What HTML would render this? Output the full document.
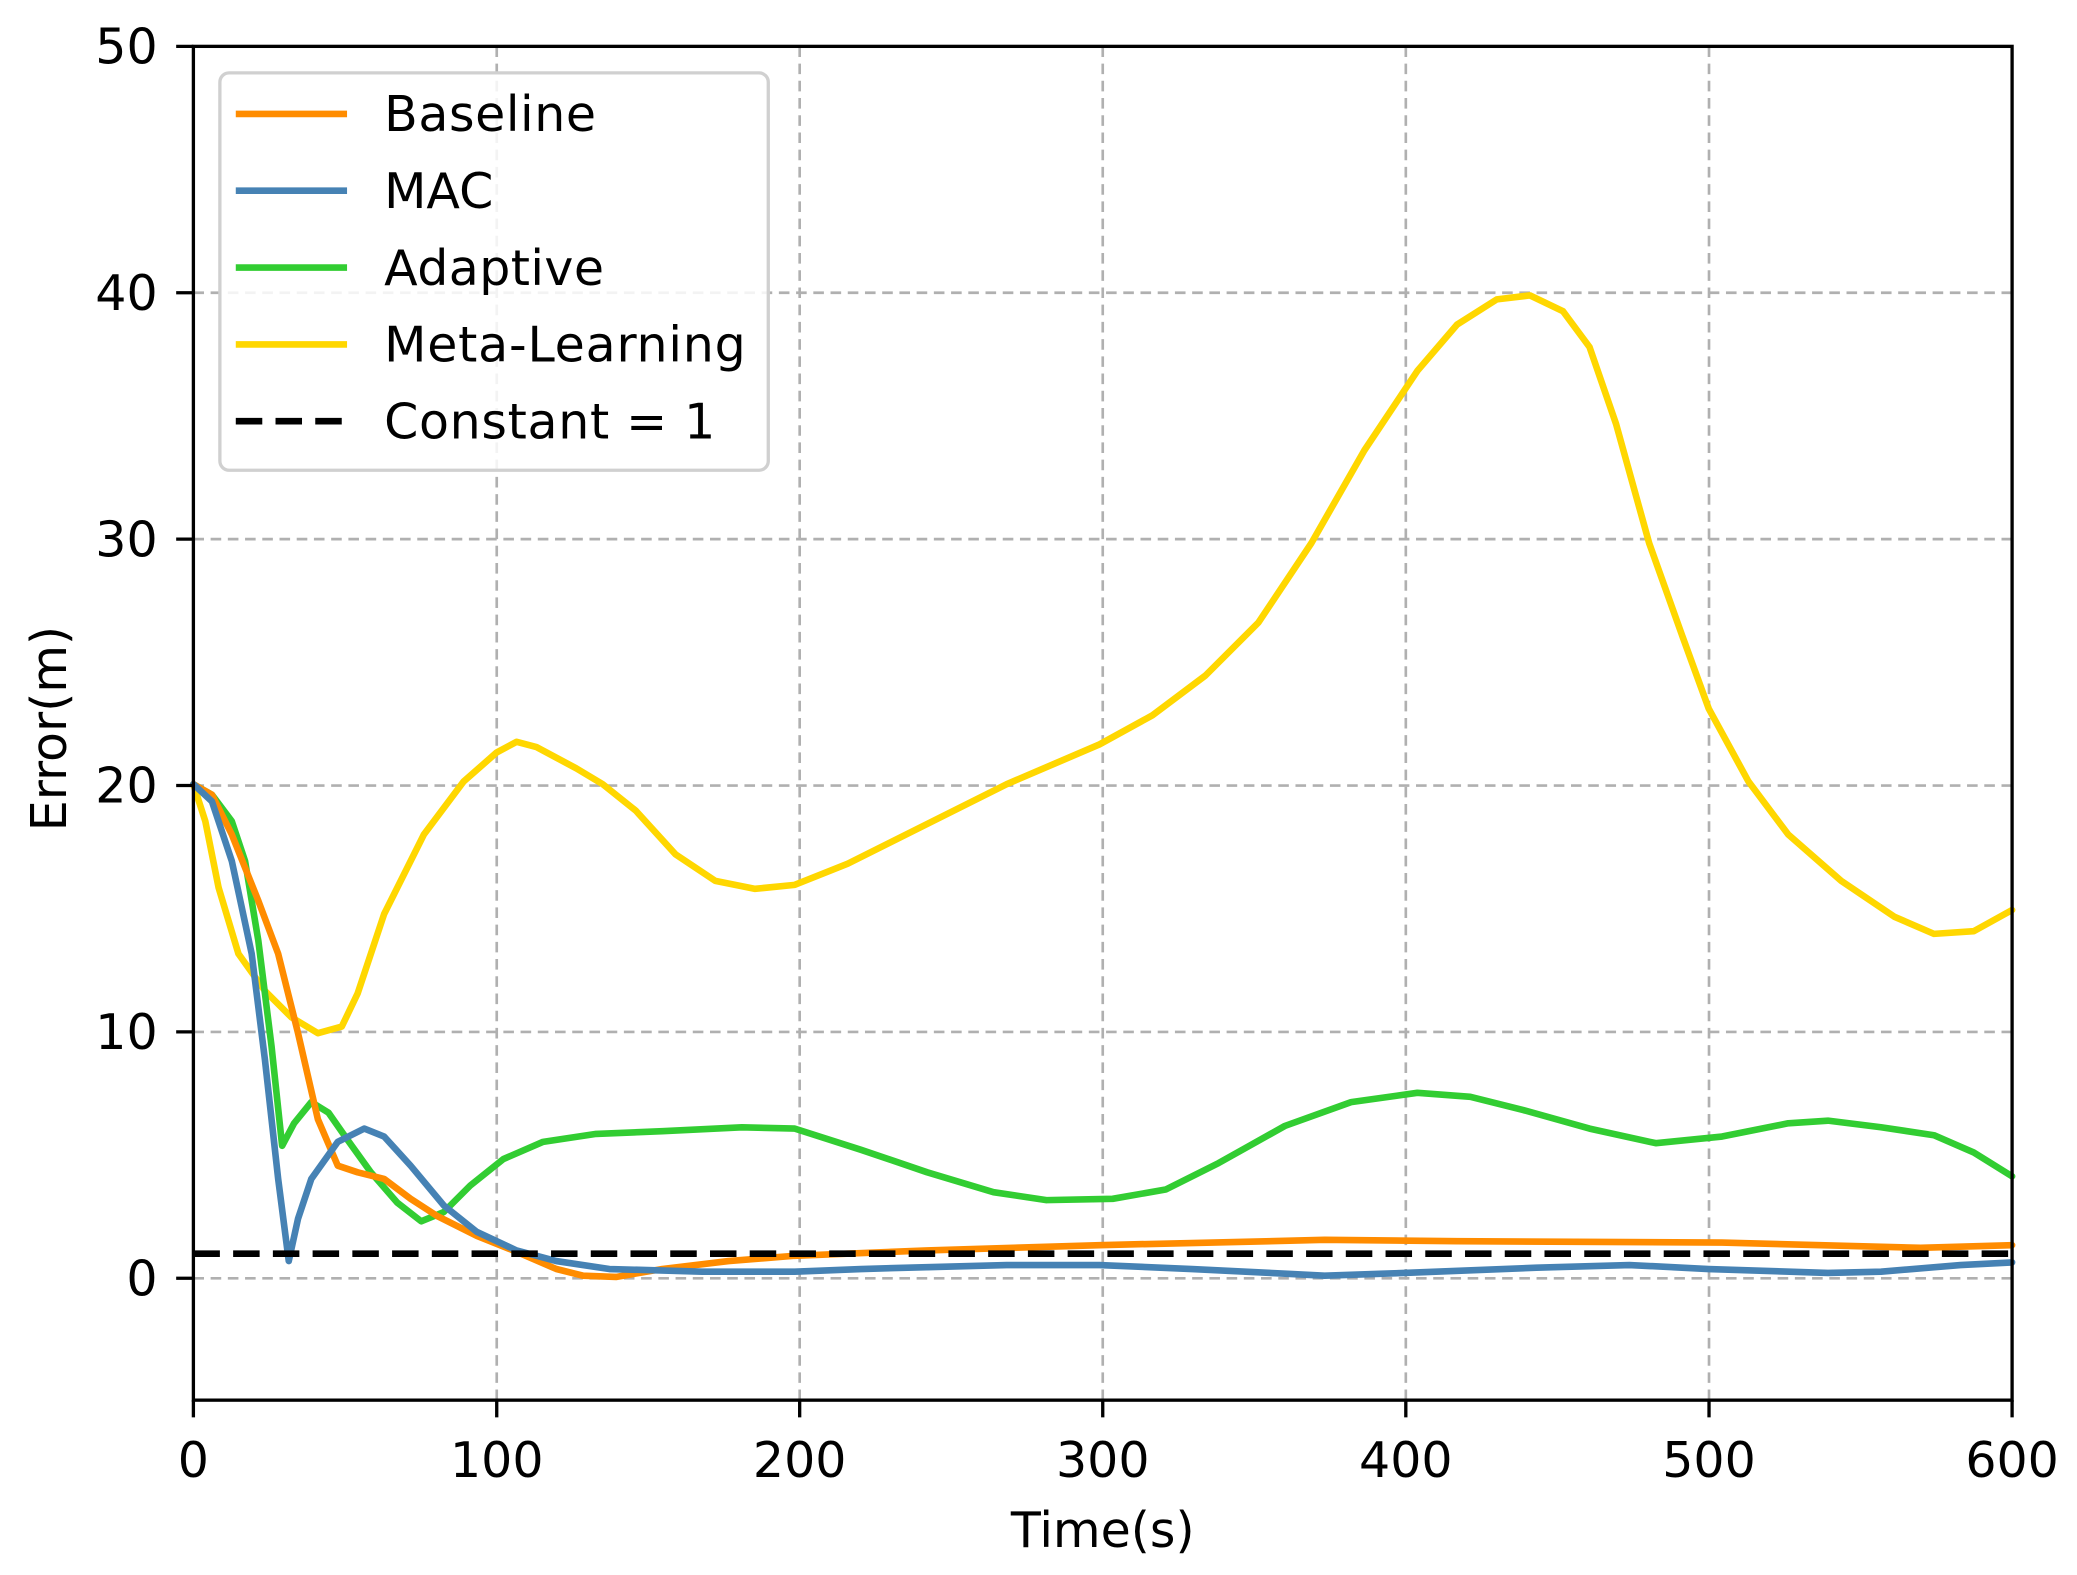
<!DOCTYPE html>
<html><head><style>html,body{margin:0;padding:0;background:#fff}svg{display:block}</style></head>
<body>
<svg width="2077" height="1575" viewBox="0 0 1568 1189" preserveAspectRatio="none" xmlns="http://www.w3.org/2000/svg" font-family="DejaVu Sans, Liberation Sans, sans-serif">
<rect width="1568" height="1189" fill="#fff"/>
<g stroke="#b0b0b0" stroke-width="2" stroke-dasharray="8,5">
<line x1="375" y1="35" x2="375" y2="1057"/><line x1="603.7" y1="35" x2="603.7" y2="1057"/><line x1="832.5" y1="35" x2="832.5" y2="1057"/><line x1="1061.3" y1="35" x2="1061.3" y2="1057"/><line x1="1290.2" y1="35" x2="1290.2" y2="1057"/>
<line x1="146" y1="965" x2="1519" y2="965"/><line x1="146" y1="779" x2="1519" y2="779"/><line x1="146" y1="593" x2="1519" y2="593"/><line x1="146" y1="407" x2="1519" y2="407"/><line x1="146" y1="221" x2="1519" y2="221"/>
</g>
<g fill="none" stroke-width="5" stroke-linejoin="round" stroke-linecap="round">
<polyline stroke="#ffd700" points="146,592 155,620 165,670 180,720 200,748 220,768 240,780 258,775 270,750 290,690 320,630 350,590 375,568 390,560 405,564 420,572 435,580 455,592 480,612 510,645 540,665 570,671 600,668 640,652 700,622 760,592 830,562 870,540 910,510 950,470 990,410 1030,340 1070,280 1100,245 1130,226 1155,223 1180,235 1200,262 1220,320 1245,410 1270,480 1290,535 1320,590 1350,630 1390,665 1430,692 1460,705 1490,703 1519,687"/>
<polyline stroke="#32cd32" points="146,592 160,600 175,620 185,650 195,710 205,790 213,865 222,848 235,832 248,840 262,860 280,885 300,908 318,922 335,915 355,895 380,875 410,862 450,856 500,854 560,851 600,852 650,868 700,885 750,900 790,906 840,905 880,898 920,878 970,850 1020,832 1070,825 1110,828 1150,838 1200,852 1250,863 1300,858 1350,848 1380,846 1420,851 1460,857 1490,870 1519,888"/>
<polyline stroke="#ff8c00" points="146,592 160,600 175,630 195,680 210,720 225,780 240,845 255,880 270,885 290,890 310,905 330,918 360,933 390,945 420,958 440,963 465,964 500,958 550,952 600,948 700,944 830,940 1000,936 1100,937 1300,938 1450,942 1519,940"/>
<polyline stroke="#4682b4" points="146,592 160,605 175,650 190,720 200,800 210,890 218,952 225,920 235,890 255,862 275,852 290,858 310,880 335,910 360,930 390,944 420,952 460,958 530,960 600,960 650,958 760,955 830,955 900,958 1000,963 1060,961 1160,957 1230,955 1290,958 1380,961 1420,960 1480,955 1519,953"/>
</g>
<line x1="146" y1="946.4" x2="1519" y2="946.4" stroke="#000" stroke-width="5" stroke-dasharray="20,10"/>
<rect x="146" y="35" width="1373" height="1022" fill="none" stroke="#000" stroke-width="2.5"/>
<g stroke="#000" stroke-width="2.5">
<line x1="146" y1="1057" x2="146" y2="1070"/><line x1="375" y1="1057" x2="375" y2="1070"/><line x1="603.7" y1="1057" x2="603.7" y2="1070"/><line x1="832.5" y1="1057" x2="832.5" y2="1070"/><line x1="1061.3" y1="1057" x2="1061.3" y2="1070"/><line x1="1290.2" y1="1057" x2="1290.2" y2="1070"/><line x1="1519" y1="1057" x2="1519" y2="1070"/>
<line x1="133" y1="965" x2="146" y2="965"/><line x1="133" y1="779" x2="146" y2="779"/><line x1="133" y1="593" x2="146" y2="593"/><line x1="133" y1="407" x2="146" y2="407"/><line x1="133" y1="221" x2="146" y2="221"/><line x1="133" y1="35" x2="146" y2="35"/>
</g>
<g font-size="37" text-anchor="middle" fill="#000">
<text x="146" y="1115">0</text><text x="375" y="1115">100</text><text x="603.7" y="1115">200</text><text x="832.5" y="1115">300</text><text x="1061.3" y="1115">400</text><text x="1290.2" y="1115">500</text><text x="1519" y="1115">600</text>
<text x="832.5" y="1168">Time(s)</text>
<text transform="translate(50,550) rotate(-90)">Error(m)</text>
</g>
<g font-size="37" text-anchor="end" fill="#000">
<text x="119" y="978">0</text><text x="119" y="792">10</text><text x="119" y="606">20</text><text x="119" y="420">30</text><text x="119" y="234">40</text><text x="119" y="48">50</text>
</g>
<rect x="166" y="55" width="414" height="300" rx="7" fill="#fff" fill-opacity="0.85" stroke="#d0d0d0" stroke-width="2.5"/>
<g stroke-width="5">
<line x1="178" y1="86" x2="262" y2="86" stroke="#ff8c00"/>
<line x1="178" y1="144" x2="262" y2="144" stroke="#4682b4"/>
<line x1="178" y1="202" x2="262" y2="202" stroke="#32cd32"/>
<line x1="178" y1="260" x2="262" y2="260" stroke="#ffd700"/>
<line x1="178" y1="318" x2="262" y2="318" stroke="#000" stroke-dasharray="20,10"/>
</g>
<g font-size="37" fill="#000">
<text x="290" y="99" textLength="160">Baseline</text><text x="290" y="157">MAC</text><text x="290" y="215" textLength="166">Adaptive</text><text x="290" y="273" textLength="273">Meta-Learning</text><text x="290" y="331" textLength="250">Constant = 1</text>
</g>
</svg>
</body></html>
